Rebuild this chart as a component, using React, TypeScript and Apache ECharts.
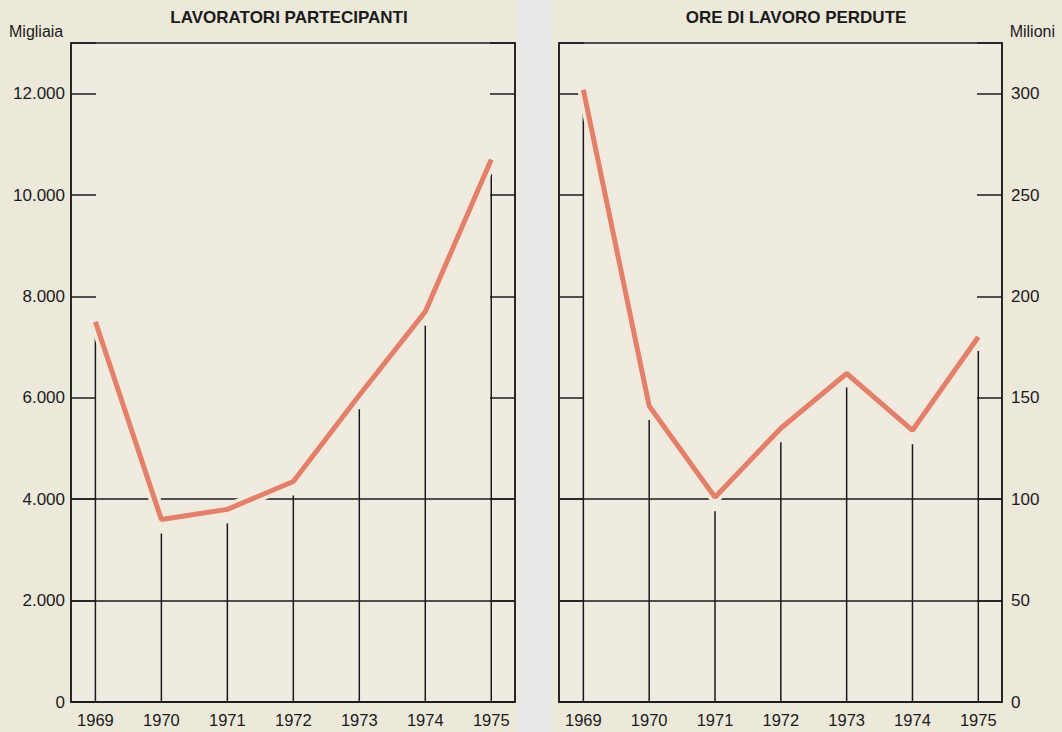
import React, { useEffect, useRef } from "react";
import * as echarts from "echarts";

const years = [1969, 1970, 1971, 1972, 1973, 1974, 1975];
const lavoratori = [7500, 3600, 3800, 4350, 6050, 7700, 10700]; // migliaia
const ore = [302, 146, 101, 135, 162, 134, 180]; // milioni
const leftTicks = [0, 2000, 4000, 6000, 8000, 10000, 12000];
const rightTicks = [0, 50, 100, 150, 200, 250, 300];

const FONT = "Liberation Sans, Arial, sans-serif";
const INK = "#1b1b1b";
const LINE = "#e2806b";
const HALO = "#f1e9dc";
const PLOT_BG = "#efebe0";

const fmtThousands = (v: number) =>
  v >= 1000 ? `${Math.floor(v / 1000)}.${String(v % 1000).padStart(3, "0")}` : String(v);

export default function App() {
  const ref = useRef<HTMLDivElement>(null);
  useEffect(() => {
    if (!ref.current) return;
    const chart = echarts.init(ref.current, undefined, { renderer: "svg" });

    const gridLineColors = [INK, INK, INK, "transparent", "transparent", "transparent", "transparent", "transparent"];

    const xAxisBase = (gridIndex: number) => ({
      type: "value",
      gridIndex,
      min: 1968.63,
      max: 1975.36,
      axisLine: { show: true, lineStyle: { color: INK, width: 1.5 } },
      axisTick: { show: false },
      splitLine: { show: false },
      axisLabel: {
        customValues: years,
        formatter: (v: number) => String(Math.round(v)),
        color: INK,
        fontFamily: FONT,
        fontSize: 16.5,
        margin: 9,
      },
    });

    const yAxisBase = (
      gridIndex: number,
      position: "left" | "right",
      max: number,
      interval: number,
      ticks: number[],
      showLabel: boolean,
      showSplit: boolean,
      formatter?: (v: number) => string
    ) => ({
      type: "value",
      gridIndex,
      position,
      min: 0,
      max,
      interval,
      axisLine: { show: true, lineStyle: { color: INK, width: 1.5 } },
      axisTick: { show: true, inside: true, length: 25, lineStyle: { color: INK, width: 1.5 } },
      splitLine: { show: showSplit, lineStyle: { color: gridLineColors, width: 1.5 } },
      axisLabel: {
        show: showLabel,
        customValues: ticks,
        formatter,
        color: INK,
        fontFamily: FONT,
        fontSize: 17,
        margin: position === "left" ? 6 : 9,
      },
    });

    const dropRender = (params: any, api: any) => {
      const x = api.value(0);
      const v = api.value(1);
      const p0 = api.coord([x, 0]);
      const p1 = api.coord([x, v]);
      return {
        type: "line",
        shape: { x1: p0[0], y1: p0[1], x2: p1[0], y2: Math.min(p0[1], p1[1] + 14) },
        style: { stroke: INK, lineWidth: 1.5 },
      };
    };

    const pairs = (vals: number[]) => years.map((y, i) => [y, vals[i]]);

    chart.setOption({
      animation: false,
      backgroundColor: "#ece8da",
      textStyle: { fontFamily: FONT },
      grid: [
        { left: 71, top: 43, width: 444, height: 659, show: true, backgroundColor: PLOT_BG, borderColor: INK, borderWidth: 1.5 },
        { left: 559, top: 43, width: 443, height: 659, show: true, backgroundColor: PLOT_BG, borderColor: INK, borderWidth: 1.5 },
      ],
      xAxis: [xAxisBase(0), xAxisBase(1)],
      yAxis: [
        yAxisBase(0, "left", 13000, 2000, leftTicks, true, true, fmtThousands),
        yAxisBase(0, "right", 13000, 2000, leftTicks, false, false),
        yAxisBase(1, "left", 325, 50, rightTicks, false, true),
        yAxisBase(1, "right", 325, 50, rightTicks, true, false, (v: number) => String(v)),
      ],
      graphic: [
        { type: "rect", shape: { x: 518, y: 0, width: 34, height: 732 }, style: { fill: "#e8e8e9" }, z: -10 },
        { type: "text", x: 289, y: 17, style: { text: "LAVORATORI PARTECIPANTI", fill: INK, font: `bold 17px ${FONT}`, textAlign: "center", textVerticalAlign: "middle" } },
        { type: "text", x: 796, y: 17, style: { text: "ORE DI LAVORO PERDUTE", fill: INK, font: `bold 17px ${FONT}`, textAlign: "center", textVerticalAlign: "middle" } },
        { type: "text", x: 9, y: 31, style: { text: "Migliaia", fill: INK, font: `16px ${FONT}`, textAlign: "left", textVerticalAlign: "middle" } },
        { type: "text", x: 1055, y: 31, style: { text: "Milioni", fill: INK, font: `16px ${FONT}`, textAlign: "right", textVerticalAlign: "middle" } },
      ],
      series: [
        { type: "custom", xAxisIndex: 0, yAxisIndex: 0, data: pairs(lavoratori), renderItem: dropRender, silent: true, z: 2 },
        { type: "line", xAxisIndex: 0, yAxisIndex: 0, data: pairs(lavoratori), symbol: "none", lineStyle: { color: HALO, width: 12 }, silent: true, z: 3 },
        { type: "line", xAxisIndex: 0, yAxisIndex: 0, data: pairs(lavoratori), symbol: "none", lineStyle: { color: LINE, width: 5 }, z: 4 },
        { type: "custom", xAxisIndex: 1, yAxisIndex: 2, data: pairs(ore), renderItem: dropRender, silent: true, z: 2 },
        { type: "line", xAxisIndex: 1, yAxisIndex: 2, data: pairs(ore), symbol: "none", lineStyle: { color: HALO, width: 12 }, silent: true, z: 3 },
        { type: "line", xAxisIndex: 1, yAxisIndex: 2, data: pairs(ore), symbol: "none", lineStyle: { color: LINE, width: 5 }, z: 4 },
      ],
    });
    return () => chart.dispose();
  }, []);
  return <div ref={ref} style={{ position: "fixed", left: 0, top: 0, width: 1062, height: 732 }} />;
}
